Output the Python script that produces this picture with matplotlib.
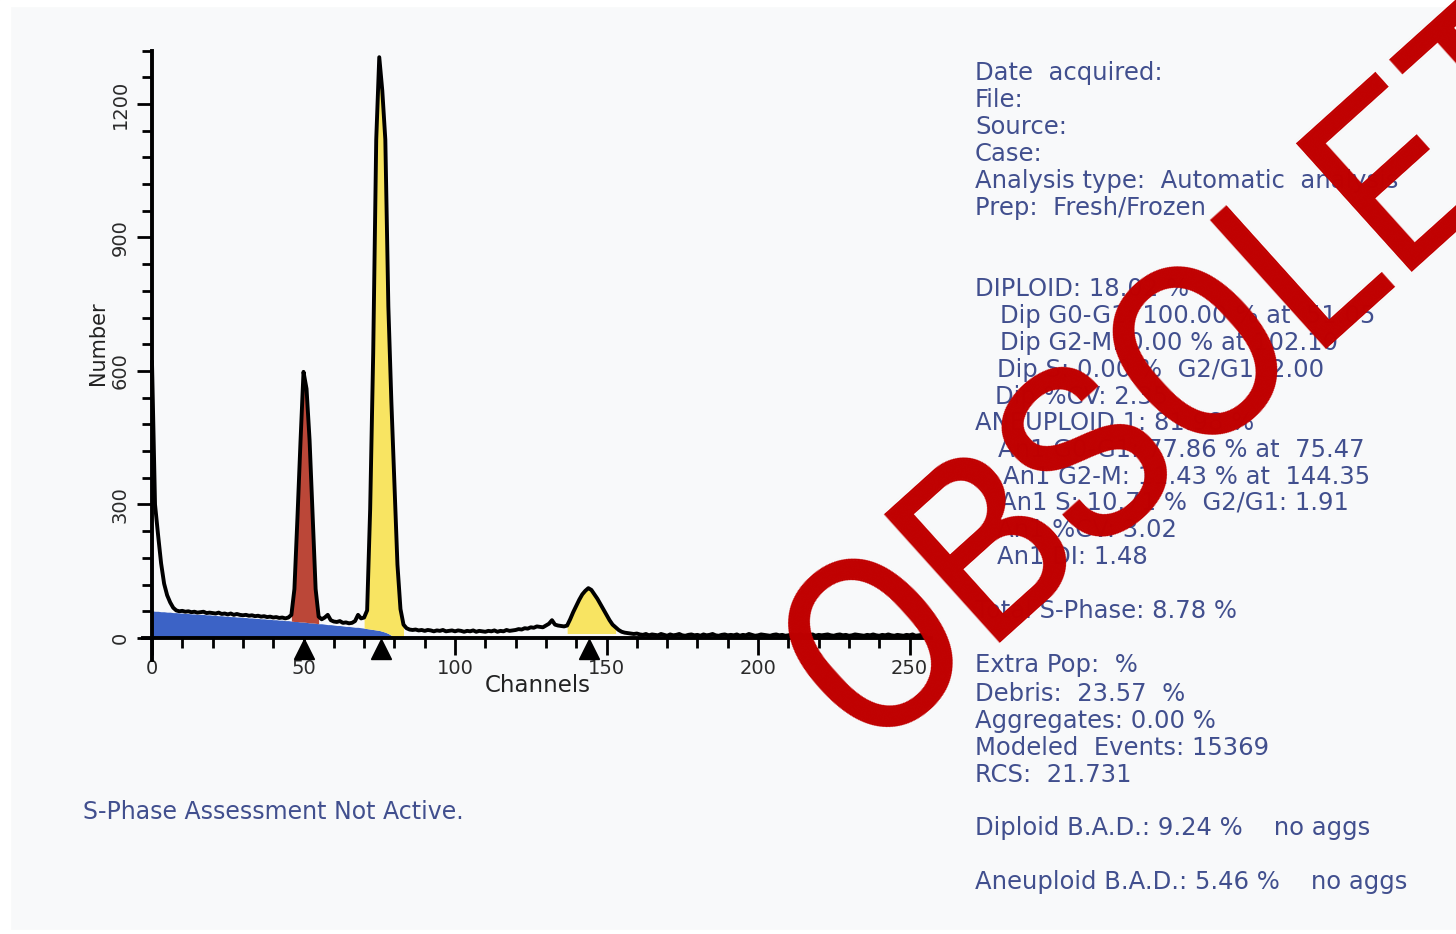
import matplotlib
matplotlib.use("Agg")
import matplotlib.pyplot as plt
from matplotlib import font_manager
from matplotlib.patches import Rectangle
import numpy as np

# DNA histogram (counts per channel)
counts = [
    620, 300, 232, 168, 122, 96, 80, 68, 62, 60, 61, 59, 60, 58, 59, 57,
    58, 59, 56, 57, 56, 55, 57, 54, 55, 53, 55, 52, 54, 52, 51, 52,
    50, 51, 49, 50, 48, 49, 47, 48, 46, 47, 45, 46, 44, 46, 52, 110,
    270, 440, 598, 560, 445, 280, 110, 48, 42, 46, 52, 40, 37, 36, 38, 34,
    35, 33, 34, 38, 52, 44, 46, 62, 290, 640, 1120, 1305, 1230, 1120, 745, 530,
    350, 165, 65, 30, 22, 19, 18, 19, 17, 18, 16, 18, 17, 15, 17, 16,
    18, 15, 16, 17, 15, 17, 16, 14, 16, 15, 17, 14, 16, 15, 14, 16,
    15, 17, 14, 16, 15, 18, 16, 17, 18, 20, 19, 22, 21, 24, 23, 26,
    25, 24, 28, 32, 40, 30, 28, 27, 26, 28, 42, 58, 72, 86, 98, 106,
    112, 108, 98, 88, 76, 64, 52, 40, 30, 24, 18, 14, 12, 11, 10, 9,
    10, 8, 7, 9, 6, 8, 7, 6, 9, 7, 5, 8, 6, 7, 9, 6,
    5, 7, 8, 6, 7, 5, 8, 6, 7, 9, 6, 5, 7, 8, 6, 7,
    6, 8, 5, 7, 6, 9, 7, 5, 6, 8, 7, 6, 5, 7, 8, 6,
    7, 5, 6, 8, 7, 6, 9, 5, 7, 6, 8, 5, 7, 6, 7, 8,
    6, 5, 7, 8, 6, 7, 5, 6, 8, 7, 6, 5, 7, 6, 8, 6,
    5, 7, 6, 8, 6, 5, 7, 6, 5, 7, 6, 8, 5, 6, 7, 6,
]
channels = np.arange(len(counts))

# modelled debris (blue), channels 0..84
debris = [
    61, 60, 60, 59, 59, 58, 58, 57, 57, 56,
    56, 55, 55, 54, 54, 53, 53, 53, 52, 52,
    51, 51, 50, 50, 49, 49, 48, 48, 47, 47,
    46, 46, 45, 45, 44, 44, 43, 43, 42, 42,
    41, 41, 40, 40, 39, 39, 38, 37, 37, 36,
    36, 35, 34, 34, 33, 32, 32, 31, 30, 30,
    29, 28, 28, 27, 26, 26, 25, 24, 24, 23,
    22, 21, 20, 19, 18, 17, 15, 13, 10, 6,
    3, 1, 0, 0, 0,
]

dip_g1_range = (46, 55)
an1_g1_range = (70, 83)
an1_g2_range = (137, 153)
g2_floor = 10
peak_marks = [50.0, 75.47, 144.35]

x_major = [0, 50, 100, 150, 200, 250]
y_major = [0, 300, 600, 900, 1200]

info_lines = [
    (975, 73, "Date  acquired:"),
    (975, 100, "File:"),
    (975, 127, "Source:"),
    (975, 154, "Case:"),
    (975, 181, "Analysis type:  Automatic  analysis"),
    (975, 208, "Prep:  Fresh/Frozen"),
    (975, 289, "DIPLOID: 18.02 %"),
    (1000, 316, "Dip G0-G1: 100.00 % at  51.05"),
    (1000, 343, "Dip G2-M: 0.00 % at 102.10"),
    (997, 370, "Dip S: 0.00 %  G2/G1: 2.00"),
    (995, 397, "Dip %CV: 2.35"),
    (975, 423, "ANEUPLOID 1: 81.98 %"),
    (998, 450, "An1 G0-G1: 77.86 % at  75.47"),
    (1003, 477, "An1 G2-M: 11.43 % at  144.35"),
    (1000, 503, "An1 S: 10.71 %  G2/G1: 1.91"),
    (997, 530, "An1 %CV: 3.02"),
    (997, 557, "An1 DI: 1.48"),
    (975, 611, "Total S-Phase: 8.78 %"),
    (975, 665, "Extra Pop:  %"),
    (975, 694, "Debris:  23.57  %"),
    (975, 721, "Aggregates: 0.00 %"),
    (975, 748, "Modeled  Events: 15369"),
    (975, 775, "RCS:  21.731"),
    (975, 828, "Diploid B.A.D.: 9.24 %    no aggs"),
    (975, 882, "Aneuploid B.A.D.: 5.46 %    no aggs"),
]

W, H = 1456, 934
BLUE, RED, YELLOW = "#3c63c6", "#bb4738", "#f8e462"
NAVY = "#414f8e"


def px(x, y):
    return x / W, 1 - y / H


def pick_watermark_font():
    # an Arial Narrow look-alike if one is installed
    files = {f.fname.split("/")[-1]: f.fname for f in font_manager.fontManager.ttflist}
    for name, size, anchor in [
        ("LiberationSansNarrow-Regular.ttf", 182, (866, 753)),
        ("ArchivoNarrow[wght].ttf", 182, (866, 753)),
        ("FiraSansCondensed-Regular.ttf", 176, (866, 752)),
        ("IBMPlexSansCondensed-Regular.ttf", 176, (866, 752)),
        ("DejaVuSansCondensed.ttf", 170, (864, 750)),
    ]:
        if name in files:
            return font_manager.FontProperties(fname=files[name]), size, anchor
    return font_manager.FontProperties(family="Liberation Sans"), 160, (859, 746)


fig = plt.figure(figsize=(W / 100, H / 100), dpi=100, facecolor="#f8f9fa")
# white edges of the scan
fig.add_artist(Rectangle((0, 0), 10 / W, 1, transform=fig.transFigure, color="white", zorder=0))
fig.add_artist(Rectangle((0, 1 - 6 / H), 1, 6 / H, transform=fig.transFigure, color="white", zorder=0))
fig.add_artist(Rectangle((0, 0), 1, 4 / H, transform=fig.transFigure, color="white", zorder=0))

ax = fig.add_axes([0.09815, 0.2931, 0.5411, 0.6528])
ax.set_facecolor("none")
ax.set_xlim(-3, 257)
ax.set_ylim(-50, 1320)

counts_a = np.array(counts)
debris_a = np.array(debris)
ax.fill_between(channels[:len(debris)], 0, debris_a, color=BLUE, lw=0, zorder=1)
a, b = dip_g1_range
ax.fill_between(channels[a:b + 1], debris_a[a:b + 1], counts_a[a:b + 1], color=RED, lw=0, zorder=1)
a, b = an1_g1_range
ax.fill_between(channels[a:b + 1], debris_a[a:b + 1], counts_a[a:b + 1], color=YELLOW, lw=0, zorder=1)
a, b = an1_g2_range
ax.fill_between(channels[a:b + 1], g2_floor, counts_a[a:b + 1], color=YELLOW, lw=0, zorder=1)
ax.plot(channels, counts_a, color="black", lw=2.8, solid_joinstyle="round", zorder=3)
ax.plot(peak_marks, [-25] * len(peak_marks), "^", ms=15, color="black", clip_on=False, zorder=4)

for s in ("top", "right"):
    ax.spines[s].set_visible(False)
ax.spines["left"].set_position(("data", 0))
ax.spines["bottom"].set_position(("data", 0))
for s in ("left", "bottom"):
    ax.spines[s].set_linewidth(2.8)
    ax.spines[s].set_zorder(2.5)

ax.set_xticks(x_major)
ax.set_xticks(np.arange(0, 257, 10), minor=True)
ax.set_yticks(y_major)
ax.set_yticks(np.arange(0, 1321, 60), minor=True)
ax.tick_params(axis="x", which="major", length=12, width=2, pad=3, labelsize=14, labelcolor="#2a2a2a")
ax.tick_params(axis="x", which="minor", length=7, width=2)
ax.tick_params(axis="y", which="major", length=11, width=2, pad=5, labelsize=14, labelcolor="#2a2a2a")
ax.tick_params(axis="y", which="minor", length=7, width=2)
for lab in ax.get_yticklabels():
    lab.set_rotation(90)
    lab.set_va("center")

fig.text(*px(538, 685), "Channels", ha="center", va="center", fontsize=16.5, color="#222222")
fig.text(*px(98, 343), "Number", ha="center", va="center", rotation=90, fontsize=15, color="#222222")
fig.text(*px(83, 812), "S-Phase Assessment Not Active.", ha="left", va="center", fontsize=17, color=NAVY)

for x, y, t in info_lines:
    fig.text(*px(x, y), t, ha="left", va="center", fontsize=17.5, color=NAVY)

# OBSOLETE stamp over the report
fp, size, anchor = pick_watermark_font()
fp.set_size(size)
fig.text(*px(*anchor), "OBSOLETE", fontproperties=fp, color="#c00000", rotation=42,
         rotation_mode="anchor", ha="left", va="baseline", zorder=20)

fig.savefig("out.png", dpi=100, facecolor=fig.get_facecolor())
plt.close(fig)
